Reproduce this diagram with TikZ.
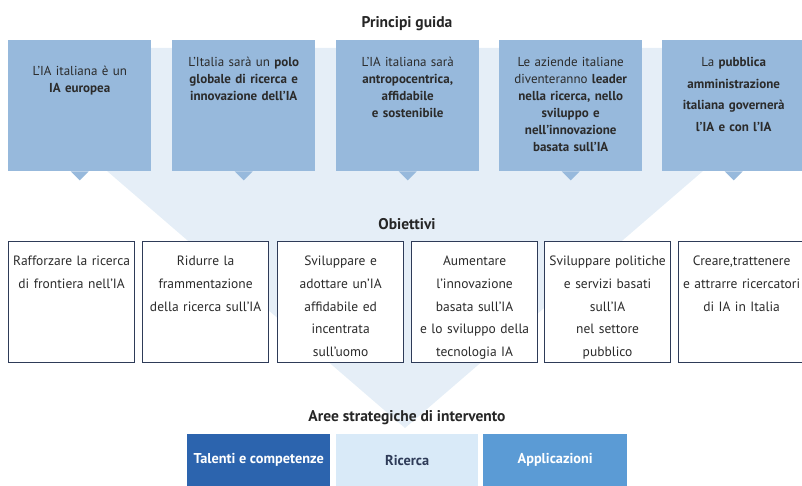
\documentclass[tikz,border=0pt]{standalone}
\usepackage{fontspec}
\setmainfont{PT Sans}
\usetikzlibrary{positioning}
\definecolor{funnelblue}{HTML}{E5EEF7}
\definecolor{princblue}{HTML}{97B9DC}
\definecolor{navy}{HTML}{2E3B58}
\definecolor{areadark}{HTML}{2C64AE}
\definecolor{arealight}{HTML}{D9EAF8}
\definecolor{areamid}{HTML}{5B9BD5}
\definecolor{inkgray}{HTML}{2B2B2B}
\tikzset{
  princ/.style={fill=princblue, minimum width=143pt, minimum height=131pt, inner sep=0pt, anchor=north west},
  ptext/.style={text=inkgray, align=center, text width=140pt, anchor=north, inner sep=0pt, font=\fontsize{13}{17}\selectfont},
  obj/.style={draw=navy, line width=1.2pt, fill=white, minimum width=126pt, minimum height=121pt, inner sep=0pt, anchor=north west},
  otext/.style={text=inkgray, align=center, text width=126pt, anchor=north, inner sep=0pt, font=\fontsize{13.5}{22.7}\selectfont},
  area/.style={minimum width=143pt, minimum height=52pt, inner sep=0pt, anchor=north west, font=\bfseries\fontsize{14.3}{16}\selectfont},
  heading/.style={text=black!85, inner sep=0pt, font=\bfseries\fontsize{15.5}{18}\selectfont}
}
\begin{document}
\begin{tikzpicture}[x=1pt, y=-1pt]
  \clip (0,0) rectangle (802,486);
  % funnel behind everything
  \fill[funnelblue] (107,48) -- (703,48) -- (703,171) -- (405,428) -- (107,171) -- cycle;

  % principi guida
  \node[heading] (hprinc) at (407,24) {Principi guida};
  \foreach \i/\x in {1/8, 2/172, 3/336, 4/499, 5/662} {
    \node[princ] (p\i) at (\x,40) {};
    \fill[princblue] ([xshift=-9pt]p\i.south) -- ([yshift=-9pt]p\i.south) -- ([xshift=9pt]p\i.south) -- cycle;
  }
  \node[ptext, yshift=-26pt] (t1) at (p1.north) {L’IA italiana è un\\ \textbf{IA europea}};
  \node[ptext, yshift=-17pt] (t2) at (p2.north) {L’Italia sarà un \textbf{polo}\\ \textbf{globale di ricerca e}\\ \textbf{innovazione dell’IA}};
  \node[ptext, yshift=-17pt] (t3) at (p3.north) {L’IA italiana sarà\\ \textbf{antropocentrica,}\\ \textbf{affidabile}\\ \textbf{e sostenibile}};
  \node[ptext, yshift=-17pt] (t4) at (p4.north) {Le aziende italiane\\ diventeranno \textbf{leader}\\ \textbf{nella ricerca, nello}\\ \textbf{sviluppo e}\\ \textbf{nell’innovazione}\\ \textbf{basata sull’IA}};
  \node[ptext, yshift=-17pt, font=\fontsize{13}{21.7}\selectfont] (t5) at (p5.north) {La \textbf{pubblica}\\ \textbf{amministrazione}\\ \textbf{italiana governerà}\\ \textbf{l’IA e con l’IA}};

  % obiettivi
  \node[heading] (hobj) at (407,224) {Obiettivi};
  \foreach \i/\x in {1/8, 2/142, 3/277, 4/411, 5/544, 6/678}
    \node[obj] (o\i) at (\x,241) {};
  \node[otext, yshift=-15pt] (u1) at (o1.north) {Rafforzare la ricerca\\ di frontiera nell'IA};
  \node[otext, yshift=-15pt] (u2) at (o2.north) {Ridurre la\\ frammentazione\\ della ricerca sull'IA};
  \node[otext, yshift=-15pt] (u3) at (o3.north) {Sviluppare e\\ adottare un’IA\\ affidabile ed\\ incentrata\\ sull’uomo};
  \node[otext, yshift=-15pt] (u4) at (o4.north) {Aumentare\\ l’innovazione\\ basata sull’IA\\ e lo sviluppo della\\ tecnologia IA};
  \node[otext, yshift=-15pt] (u5) at (o5.north) {Sviluppare politiche\\ e servizi basati\\ sull'IA\\ nel settore\\ pubblico};
  \node[otext, yshift=-15pt] (u6) at (o6.north) {Creare,trattenere\\ e attrarre ricercatori\\ di IA in Italia};

  % aree strategiche
  \node[heading] (harea) at (407,418) {Aree strategiche di intervento};
  \node[area, fill=areadark, text=white] (a1) at (187,434) {Talenti e competenze};
  \node[area, fill=arealight, text=navy, minimum width=142pt] (a2) at (336,434) {Ricerca};
  \node[area, fill=areamid, text=white, minimum width=144pt] (a3) at (483,434) {Applicazioni};
\end{tikzpicture}
\end{document}
